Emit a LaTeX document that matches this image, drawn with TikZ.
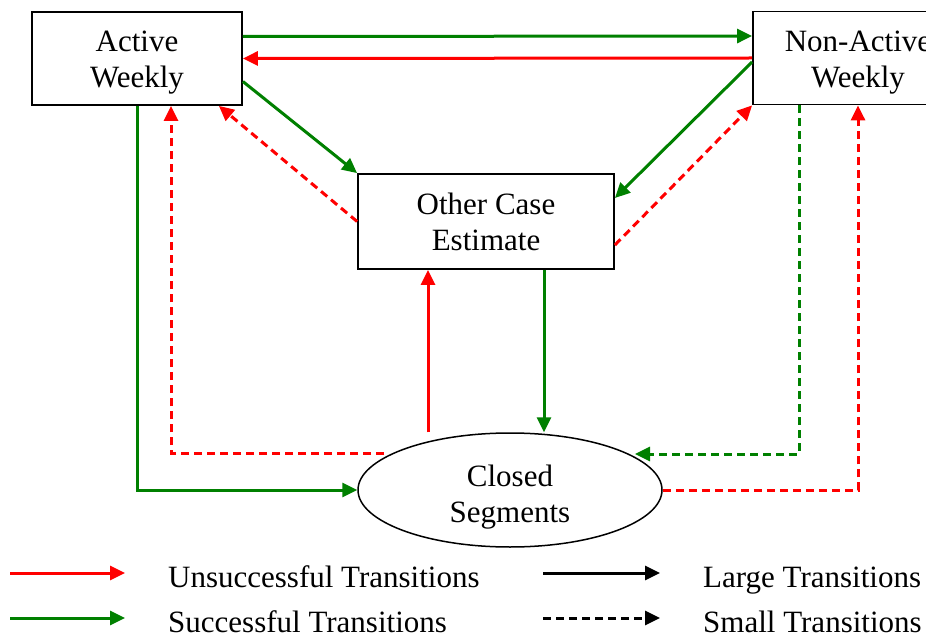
\documentclass[tikz,border=0pt]{standalone}
\usepackage{fontspec}
\setmainfont{Liberation Serif}
\usetikzlibrary{arrows.meta,shapes.geometric}
\definecolor{okgreen}{RGB}{0,128,0}
\definecolor{badred}{RGB}{255,0,0}
\begin{document}
\begin{tikzpicture}[x=1pt,y=-1pt,
  txt/.style={font=\fontsize{31}{36}\selectfont},
  box/.style={txt,draw,line width=1.8pt,minimum width=210pt,minimum height=93pt,inner sep=0pt,align=center},
  conn/.style={line width=3pt,-{Triangle[length=15pt,width=14pt]}},
  dsh/.style={dash pattern=on 8pt off 5pt},
  succ/.style={conn,okgreen},
  fail/.style={conn,badred},
  legtext/.style={txt,anchor=base west,inner sep=0pt}]
\useasboundingbox (0,0) rectangle (926,636);
\clip (0,0) rectangle (926,636);
% nodes
\node[box] (active) at (137,58.5) {\rule{0pt}{29pt}Active\\Weekly};
\node[box] (nonactive) at (858,58) {\rule{0pt}{29pt}Non-Active\\Weekly};
\node[box,minimum width=256pt,minimum height=95pt] (other) at (486,221.5) {Other Case\\Estimate};
\node[txt,draw,line width=1.5pt,ellipse,minimum width=304pt,minimum height=114pt,inner sep=0pt,align=center] (closed) at (510,490) {\rule{0pt}{35pt}Closed\\Segments};
% top transitions
\draw[succ] ([yshift=22pt]active.east) -- ([yshift=22pt]nonactive.west);
\draw[fail] (nonactive.west) -- (active.east);
% diagonals
\draw[succ] ([yshift=-23pt]active.east) -- (other.north west);
\draw[fail,dsh] (other.west) -- ([xshift=-24pt]active.south east);
\draw[succ] ([yshift=-4pt]nonactive.west) -- ([yshift=23.5pt]other.east);
\draw[fail,dsh] ([yshift=-23.5pt]other.east) -- (nonactive.south west);
% verticals between other and closed
\draw[fail] ([xshift=-58pt]other.south |- closed.north) -- ([xshift=-58pt]other.south);
\draw[succ] ([xshift=58pt]other.south) -- ([xshift=58pt]other.south |- closed.north);
% left loops
\draw[succ,line join=miter] (active.south) |- (closed.west);
\draw[fail,dsh,line join=miter] ([xshift=-126pt,yshift=37pt]closed.center) -| ([xshift=34pt]active.south);
% right loops
\draw[succ,dsh,line join=miter] ([xshift=-59pt]nonactive.south) |- ([xshift=125pt,yshift=36pt]closed.center);
\draw[fail,dsh,line join=miter] (closed.east) -| (nonactive.south);
% legend
\coordinate (l1a) at (10,573); \coordinate (l1b) at (125,573);
\coordinate (l2a) at (10,618); \coordinate (l2b) at (125,618);
\coordinate (l3a) at (543,573); \coordinate (l3b) at (660,573);
\coordinate (l4a) at (543,618); \coordinate (l4b) at (660,618);
\draw[fail] (l1a) -- (l1b);
\draw[succ] (l2a) -- (l2b);
\draw[conn,black] (l3a) -- (l3b);
\draw[conn,black,dsh] (l4a) -- (l4b);
\node[legtext] (t1) at (168,587) {Unsuccessful Transitions};
\node[legtext] (t2) at (168,632) {Successful Transitions};
\node[legtext] (t3) at (703,587) {Large Transitions};
\node[legtext] (t4) at (703,632) {Small Transitions};
\end{tikzpicture}
\end{document}
